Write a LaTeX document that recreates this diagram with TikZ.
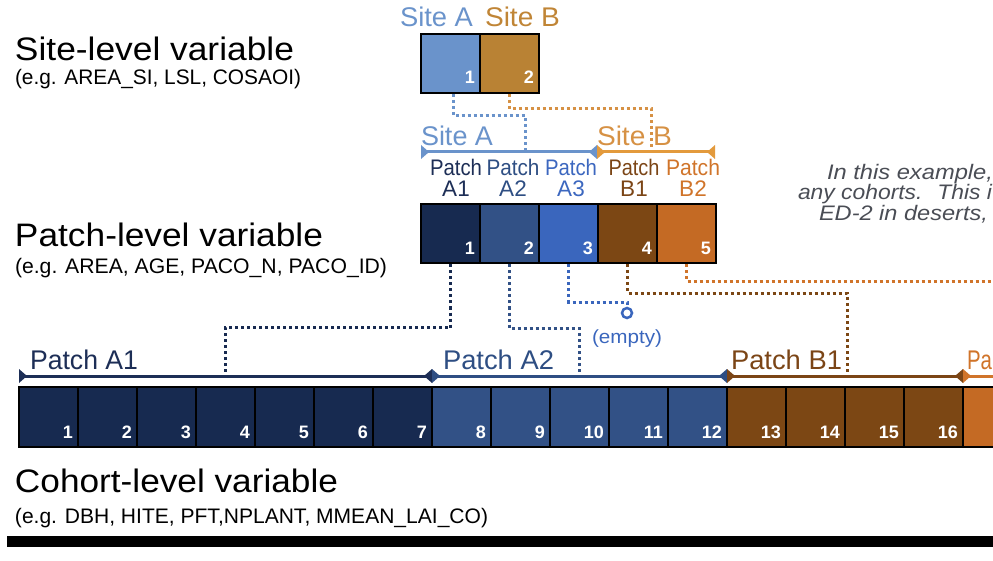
\documentclass[tikz,border=0pt]{standalone}
\usepackage{fontspec}
\setmainfont{Liberation Sans}
\usepackage{graphicx}
\usetikzlibrary{calc}
\definecolor{cA1}{HTML}{172A50}
\definecolor{cA2}{HTML}{325186}
\definecolor{cA3}{HTML}{3A66BD}
\definecolor{cB1}{HTML}{7C4714}
\definecolor{cB2}{HTML}{C46A24}
\definecolor{siteA}{HTML}{6A93CB}
\definecolor{siteB}{HTML}{B98234}
\definecolor{siteBlbl}{HTML}{C08536}
\definecolor{siteBmid}{HTML}{D69144}
\definecolor{siteBline}{HTML}{E39A3C}
\definecolor{lA1}{HTML}{1D2E56}
\definecolor{lA2}{HTML}{2E4E83}
\definecolor{lA3}{HTML}{3C67BF}
\definecolor{lB1}{HTML}{7B4516}
\definecolor{lB2}{HTML}{D0742A}
\definecolor{note}{HTML}{4A4D55}
\newcommand\fw[2]{\resizebox{#1pt}{\height}{#2}}
\newcommand\myBracket[3]{%
  \draw[#1, line width=3pt] (#2) -- (#3);
  \fill[#1] ($(#2)+(0,-7)$) -- ($(#2)+(8,0)$) -- ($(#2)+(0,7)$) -- cycle;
  \fill[#1] ($(#3)+(0,-7)$) -- ($(#3)+(-8,0)$) -- ($(#3)+(0,7)$) -- cycle;}
\begin{document}
\begin{tikzpicture}[x=1pt,y=-1pt,
  txt/.style={inner sep=0pt, outer sep=0pt, anchor=base west},
  head/.style={txt, font=\fontsize{32.5}{36}\selectfont},
  sub/.style={txt, font=\fontsize{21}{24}\selectfont},
  lbl/.style={txt, font=\fontsize{27}{32}\selectfont},
  plab/.style={inner sep=0pt, outer sep=0pt, anchor=base, font=\fontsize{22.5}{26}\selectfont},
  cell/.style={draw=black, line width=2pt, minimum width=59pt, minimum height=59pt, inner sep=0pt},
  num/.style={inner sep=0pt, anchor=base east, text=white, font=\fontsize{18}{20}\selectfont\bfseries},
  dotcon/.style={line width=3pt, dash pattern=on 3pt off 3pt},
  notetxt/.style={txt, text=note, font=\fontsize{21}{24}\selectfont\itshape}]
\useasboundingbox (0,0) rectangle (993,561);
\clip (0,0) rectangle (993,561);

% ---------- left headings ----------
\node[head] (h1) at (15,61) {\fw{279}{Site-level variable}};
\node[sub] (h1s) at (15,85) {\fw{286}{(e.g. AREA\_SI, LSL, COSAOI)}};
\node[head] (h2) at (15,247) {\fw{308}{Patch-level variable}};
\node[sub] (h2s) at (15,274) {\fw{372}{(e.g. AREA, AGE, PACO\_N, PACO\_ID)}};
\node[head] (h3) at (15,492) {\fw{323}{Cohort-level variable}};
\node[sub] (h3s) at (15,523) {\fw{473}{(e.g. DBH, HITE, PFT,NPLANT, MMEAN\_LAI\_CO)}};
\fill[black] (7,536) rectangle (993,547);

% ---------- note ----------
\node[notetxt] (n1) at (827,180) {\fw{166}{In this example,}};
\node[notetxt] (n2) at (798,200) {\fw{194}{any cohorts.~ This i}};
\node[notetxt] (n3) at (819,221) {\fw{169}{ED-2 in deserts,}};

% ---------- site level ----------
\node[lbl, text=siteA] (tSA) at (400,27) {\fw{73}{Site A}};
\node[lbl, text=siteBlbl] (tSB) at (485,27) {\fw{75}{Site B}};
\node[cell, fill=siteA] (s1) at (450.5,63.5) {};
\node[cell, fill=siteB] (s2) at (509.5,63.5) {};
\node[num] at ($(s1.south east)+(-6,-10)$) {1};
\node[num] at ($(s2.south east)+(-6,-10)$) {2};

% site brackets
\coordinate (sb0) at (421,152);
\coordinate (sb1) at (597,152);
\coordinate (sb2) at (715,152);
\coordinate (sAend) at (525,152);
\coordinate (sBend) at (651,152);
\node[lbl, text=siteA] (mSA) at (421,146) {\fw{72}{Site A}};
\node[lbl, text=siteBmid] (mSB) at (597,146) {\fw{75}{Site B}};
\draw[dotcon, siteA] ($(s1.south)+(3,0)$) -- ++(0,22) -| (sAend);
\draw[dotcon, siteBmid] (s2.south) -- ++(0,15) -| (sBend);
\myBracket{siteA}{sb0}{sb1}
\myBracket{siteBline}{sb1}{sb2}

% ---------- patch level ----------
\node[plab, text=lA1] (pl1) at (456,176) {\fw{52}{Patch}};
\node[plab, text=lA1] at (456,197) {A1};
\node[plab, text=lA2] (pl2) at (513,176) {\fw{53}{Patch}};
\node[plab, text=lA2] at (513,197) {A2};
\node[plab, text=lA3] (pl3) at (571,176) {\fw{52}{Patch}};
\node[plab, text=lA3] at (571,197) {A3};
\node[plab, text=lB1] (pl4) at (634,176) {\fw{51}{Patch}};
\node[plab, text=lB1] at (634,197) {B1};
\node[plab, text=lB2] (pl5) at (693,176) {\fw{54}{Patch}};
\node[plab, text=lB2] at (693,197) {B2};

\node[cell, fill=cA1] (p1) at (450.5,234) {};
\node[cell, fill=cA2] (p2) at (509.5,234) {};
\node[cell, fill=cA3] (p3) at (568.5,234) {};
\node[cell, fill=cB1] (p4) at (627.5,234) {};
\node[cell, fill=cB2] (p5) at (686.5,234) {};
\foreach \i in {1,...,5} {\node[num] at ($(p\i.south east)+(-6,-10)$) {\i};}

% empty marker
\node[circle, draw=cA3, line width=2.5pt, minimum size=10pt, inner sep=0pt] (ec) at (627,313) {};
\node[inner sep=0pt, anchor=base, text=cA3, font=\fontsize{19}{22}\selectfont] (et) at (627,343) {\fw{70}{(empty)}};

% cohort bracket coordinates
\coordinate (cb0) at (19,376);
\coordinate (cb1) at (432,376);
\coordinate (cb2) at (727,376);
\coordinate (cb3) at (963,376);
\coordinate (cb4) at (1010,376);
\coordinate (cA1end) at (225,376);
\coordinate (cA2end) at (579,376);
\coordinate (cB1end) at (847,376);
\coordinate (p5end) at (1000,281.5);

% patch -> cohort connectors
\draw[dotcon, cA1] (p1.south) -- ++(0,63) -| (cA1end);
\draw[dotcon, cA2] (p2.south) -- ++(0,64) -| (cA2end);
\draw[dotcon, cA3] (p3.south) -- ++(0,38) -| (ec.north);
\draw[dotcon, cB1] (p4.south) -- ++(0,29) -| (cB1end);
\draw[dotcon, lB2] (p5.south) |- (p5end);

% cohort brackets and labels
\node[lbl, text=lA1] (cl1) at (30,369) {\fw{108}{Patch A1}};
\node[lbl, text=lA2] (cl2) at (443,369) {\fw{111}{Patch A2}};
\node[lbl, text=lB1] (cl3) at (731,369) {\fw{111}{Patch B1}};
\node[lbl, text=lB2] (cl4) at (967,369) {\fw{25}{Pa}};
\myBracket{lA1}{cb0}{cb1}
\myBracket{lA2}{cb1}{cb2}
\myBracket{lB1}{cb2}{cb3}
\myBracket{lB2}{cb3}{cb4}

% ---------- cohort level ----------
\foreach \i in {1,...,17} {
  \pgfmathtruncatemacro\k{\i-1}
  \ifnum\i<8 \def\cc{cA1}\else\ifnum\i<13 \def\cc{cA2}\else\ifnum\i<17 \def\cc{cB1}\else\def\cc{cB2}\fi\fi\fi
  \node[cell, minimum height=60pt, fill=\cc] (c\i) at (48.5+59*\k,417) {};
  \ifnum\i<17 \node[num] at ($(c\i.south east)+(-6,-10)$) {\i};\fi
}
\end{tikzpicture}
\end{document}
